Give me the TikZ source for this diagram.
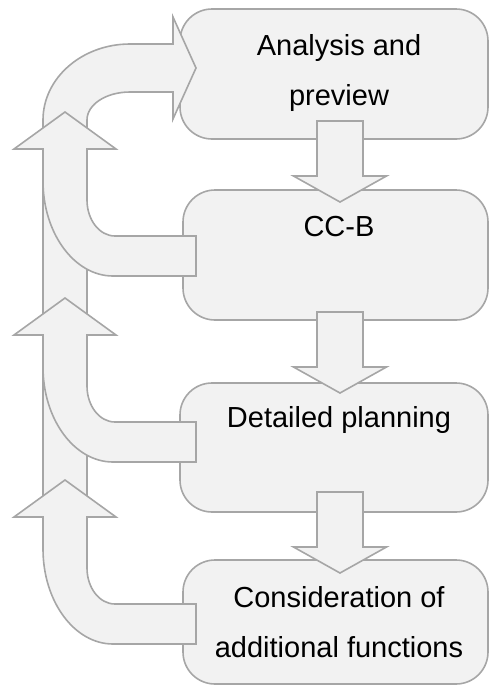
\documentclass[tikz,border=0pt]{standalone}
\usepackage{fontspec}
\setmainfont{Liberation Sans}
\definecolor{shapefill}{HTML}{F2F2F2}
\definecolor{shapeline}{HTML}{A6A6A6}
\begin{document}
\begin{tikzpicture}[x=1pt,y=-1pt,
  blk/.style={fill=shapefill,draw=shapeline,line width=1.6pt,line join=miter},
  box/.style={blk,rounded corners=32pt,inner sep=0pt,outer sep=0pt},
  lbl/.style={font=\fontsize{29}{50}\selectfont,align=center,inner sep=0pt,anchor=north,text=black},
  downarr/.pic={\path[blk] (-23,0) -- (23,0) -- (23,55) -- (46.5,55) -- (0,81) -- (-46.5,55) -- (-23,55) -- cycle;},
  uparr/.pic={\path[blk] (0,0) -- (51,37) -- (22,37) -- (22,88)
      .. controls (22,107.9) and (34.5,124) .. (50,124) -- (131,124) -- (131,164) -- (48,164)
      .. controls (9.4,164) and (-22,121.4) .. (-22,69) -- (-22,37) -- (-51,37) -- cycle;}
]
\useasboundingbox (0,0) rectangle (489,686);
% boxes
\node[box,minimum width=308pt,minimum height=130pt,anchor=north west] (b1) at (180,9) {};
\node[box,minimum width=305pt,minimum height=130pt,anchor=north west] (b2) at (183,190) {};
\node[box,minimum width=308pt,minimum height=129pt,anchor=north west] (b3) at (180,383) {};
\node[box,minimum width=305pt,minimum height=124pt,anchor=north west] (b4) at (183,560) {};
% long feedback arrow into the first box
\path[blk] (43,510) -- (43,120) .. controls (43,78) and (82,44) .. (130,44) -- (173,44) -- (173,17)
  -- (196,68) -- (173,119) -- (173,92) -- (130,92) .. controls (106,92) and (87,104.5) .. (87,120)
  -- (87,510) -- cycle;
% return arrows
\pic at (65,112) {uparr};
\pic at (65,298) {uparr};
\pic at (65,480) {uparr};
% forward arrows
\pic at (340,121) {downarr};
\pic at (340,312) {downarr};
\pic at (340,492) {downarr};
% labels
\node[lbl] (t1) at (339,31) {\rule{0pt}{24pt}Analysis and\\preview};
\node[lbl] (t2) at (339,212) {\rule{0pt}{24pt}CC-B};
\node[lbl] (t3) at (339,403) {\rule{0pt}{24pt}Detailed planning};
\node[lbl] (t4) at (339,583) {\rule{0pt}{24pt}Consideration of\\additional functions};
\end{tikzpicture}
\end{document}
